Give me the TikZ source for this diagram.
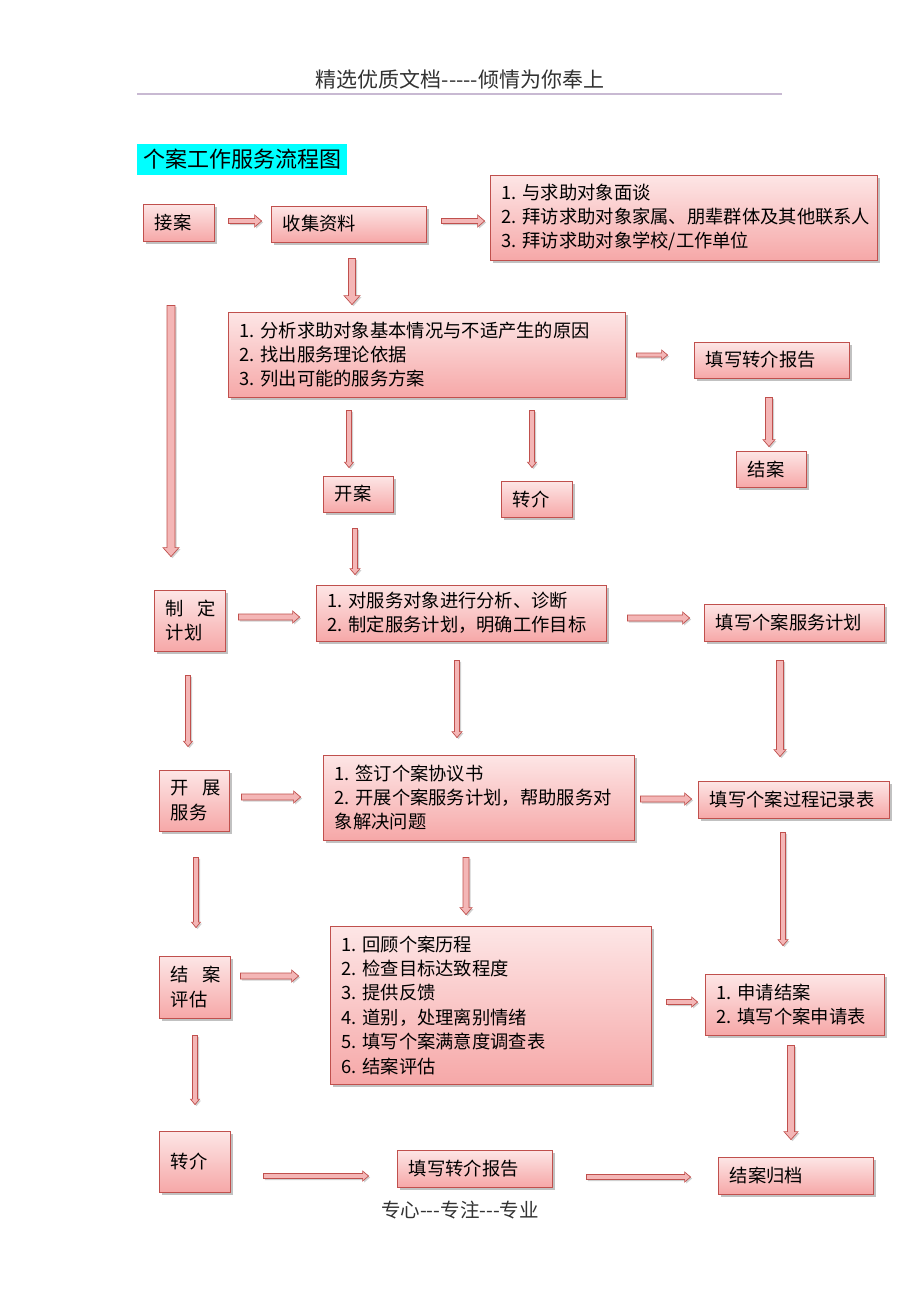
\documentclass[tikz,border=0pt]{standalone}
\usepackage{fontspec}
\setmainfont{Noto Sans CJK SC}
\usetikzlibrary{calc,shadows}
\definecolor{boxline}{RGB}{192,80,77}
\definecolor{boxtop}{RGB}{253,230,230}
\definecolor{boxbot}{RGB}{246,168,168}
\definecolor{arrowfill}{RGB}{244,182,182}
\definecolor{headline}{RGB}{200,185,210}
\definecolor{headtext}{RGB}{50,50,50}
\definecolor{titlecyan}{RGB}{0,255,255}
\tikzset{
  box/.style={draw=boxline, line width=0.8pt, top color=boxtop, bottom color=boxbot,
    inner sep=0pt, rectangle,
    drop shadow={shadow xshift=2.5pt, shadow yshift=-2.5pt, fill=black!60, opacity=0.4}},
  boxtext/.style={anchor=west, align=left, inner sep=0pt, text=black,
    font=\fontsize{18.3}{24.4}\selectfont},
  arrowbody/.style={fill=arrowfill, draw=boxline, line width=0.7pt, line join=miter,
    drop shadow={shadow xshift=1.5pt, shadow yshift=-1.5pt, fill=black!60, opacity=0.3}},
}
% box: name, left, top, right, bottom, text
\newcommand\bx[6]{%
  \pgfmathsetmacro\bw{#4-#2}%
  \pgfmathsetmacro\bh{#5-#3}%
  \pgfmathsetmacro\cx{(#2+#4)/2}%
  \pgfmathsetmacro\cy{(#3+#5)/2}%
  \node[box, minimum width=\bw pt, minimum height=\bh pt] (#1) at (\cx,\cy) {};
  \node[boxtext] (#1-t) at ($(#1.west)+(12,0)$) {#6};}
% horizontal arrow: start, end, shaft half width, head half width
\newcommand\harr[4]{%
  \path let \p1=#1, \p2=#2 in [arrowbody]
    (\x1,\y1+#3pt) -- (\x2-#4pt-1pt,\y1+#3pt) -- (\x2-#4pt-1pt,\y1+#4pt) -- (\x2,\y1)
    -- (\x2-#4pt-1pt,\y1-#4pt) -- (\x2-#4pt-1pt,\y1-#3pt) -- (\x1,\y1-#3pt) -- cycle;}
% vertical (downward) arrow
\newcommand\varr[4]{%
  \path let \p1=#1, \p2=#2 in [arrowbody]
    (\x1-#3pt,\y1) -- (\x1-#3pt,\y2+#4pt+1pt) -- (\x1-#4pt,\y2+#4pt+1pt) -- (\x1,\y2)
    -- (\x1+#4pt,\y2+#4pt+1pt) -- (\x1+#3pt,\y2+#4pt+1pt) -- (\x1+#3pt,\y1) -- cycle;}
\begin{document}
\begin{tikzpicture}[x=1pt,y=-1pt]
\fill[white] (0,0) rectangle (920,1302);
\useasboundingbox (0,0) rectangle (920,1302);

% header and footer
\node[text=headtext, font=\fontsize{21}{24}\selectfont, inner sep=0pt] (head) at (460,79) {精选优质文档{-}{-}{-}{-}{-}倾情为你奉上};
\coordinate (hl) at (137,94);
\coordinate (hr) at (782,94);
\draw[headline, line width=1.5pt] (hl) -- (hr);
\node[text=headtext, font=\fontsize{19.5}{22}\selectfont, inner sep=0pt] (foot) at (460,1210) {专心{-}{-}{-}专注{-}{-}{-}专业};

% title
\node[fill=titlecyan, anchor=west, minimum width=210pt, minimum height=31pt, inner sep=0pt,
  font=\fontsize{22}{26}\selectfont] (title) at (137,159.5) {个案工作服务流程图};

% boxes
\bx{jiean}{143}{204}{214}{241}{接案}
\bx{shouji}{271}{206}{426}{242}{收集资料}
\bx{list}{490}{175}{877}{260}{1. 与求助对象面谈\\2. 拜访求助对象家属、朋辈群体及其他联系人\\3. 拜访求助对象学校/工作单位}
\bx{analysis}{228}{312}{625}{397}{1. 分析求助对象基本情况与不适产生的原因\\2. 找出服务理论依据\\3. 列出可能的服务方案}
\bx{reportT}{694}{342}{849}{378}{填写转介报告}
\bx{closeT}{736}{451}{806}{487}{结案}
\bx{kaian}{323}{476}{393}{512}{开案}
\bx{refer}{501}{481}{572}{517}{转介}
\bx{zhiding}{154}{590}{225}{651}{制\hspace{0.75em}定\\计划}
\bx{plan}{316}{585}{606}{641}{1. 对服务对象进行分析、诊断\\2. 制定服务计划，明确工作目标}
\bx{fillplan}{704}{604}{884}{641}{填写个案服务计划}
\bx{kaizhan}{159}{770}{229}{831}{开\hspace{0.75em}展\\服务}
\bx{sign}{323}{755}{634}{840}{1. 签订个案协议书\\2. 开展个案服务计划，帮助服务对\\象解决问题}
\bx{record}{698}{781}{889}{818}{填写个案过程记录表}
\bx{pinggu}{159}{956}{230}{1018}{结\hspace{0.75em}案\\评估}
\bx{review}{330}{926}{651}{1084}{1. 回顾个案历程\\2. 检查目标达致程度\\3. 提供反馈\\4. 道别，处理离别情绪\\5. 填写个案满意度调查表\\6. 结案评估}
\bx{apply}{705}{974}{884}{1035}{1. 申请结案\\2. 填写个案申请表}
\bx{referB}{159}{1131}{230}{1192}{转介}
\bx{reportB}{397}{1150}{552}{1187}{填写转介报告}
\bx{archive}{718}{1157}{873}{1194}{结案归档}

% arrows
\harr{($(jiean.east)+(14,-1.5)$)}{($(shouji.west)+(-9,0)$)}{2.5}{6}
\harr{($(shouji.east)+(15,-3)$)}{($(list.west)+(-5,0)$)}{2.5}{6}
\varr{($(shouji.south)+(3.5,16)$)}{($(analysis.north)+(0,-7)$)}{3.5}{8}
\varr{($(jiean.south)+(-7.5,64)$)}{($(zhiding.north)+(0,-33)$)}{4}{8}
\harr{($(analysis.east)+(11,0.5)$)}{($(reportT.west)+(-26,0)$)}{2}{5}
\varr{($(reportT.south)+(-2.5,19)$)}{($(closeT.north)+(0,-4)$)}{3.5}{6}
\varr{($(analysis.south -| kaian.north)+(-9,13)$)}{($(kaian.north)+(-9,-8)$)}{2.5}{4.5}
\varr{($(analysis.south -| refer.north)+(-4.5,13)$)}{($(refer.north)+(-4.5,-13)$)}{2.5}{4.5}
\varr{($(kaian.south)+(-3,16)$)}{($(plan.north)+(0,-10)$)}{2.5}{5}
\harr{($(zhiding.east)+(13,-3.5)$)}{($(plan.west)+(-16,0)$)}{3}{6}
\harr{($(plan.east)+(21,5)$)}{($(fillplan.west)+(-14,0)$)}{3}{6}
\varr{($(zhiding.south)+(-1.5,24)$)}{($(kaizhan.north)+(0,-23)$)}{2.5}{4.5}
\varr{($(plan.south)+(-4,19)$)}{($(sign.north)+(0,-17)$)}{2.5}{5}
\varr{($(fillplan.south)+(-14,19)$)}{($(record.north)+(0,-24)$)}{3.5}{6}
\harr{($(kaizhan.east)+(12,-3.5)$)}{($(sign.west)+(-22,0)$)}{3}{6}
\harr{($(sign.east)+(6,1.5)$)}{($(record.west)+(-6,0)$)}{3}{6}
\varr{($(kaizhan.south)+(2,26)$)}{($(pinggu.north)+(0,-28)$)}{2.5}{4.5}
\varr{($(sign.south)+(-12.5,17)$)}{($(review.north)+(0,-11)$)}{3}{6}
\varr{($(record.south)+(-10.5,14)$)}{($(apply.north)+(0,-28)$)}{2.5}{5}
\harr{($(pinggu.east)+(10,-11)$)}{($(review.west)+(-31,0)$)}{3}{6}
\harr{($(review.east)+(15,-3)$)}{($(apply.west)+(-7,0)$)}{2.5}{5}
\varr{($(pinggu.south)+(0.5,17)$)}{($(referB.north)+(0,-26)$)}{2.5}{4.5}
\varr{($(apply.south)+(-3.5,10)$)}{($(archive.north)+(0,-17)$)}{3.5}{7}
\harr{($(referB.east)+(33,14.5)$)}{($(reportB.west)+(-28,0)$)}{2.5}{5}
\harr{($(reportB.east)+(34,8.5)$)}{($(archive.west)+(-27,0)$)}{2.5}{5}
\end{tikzpicture}
\end{document}
